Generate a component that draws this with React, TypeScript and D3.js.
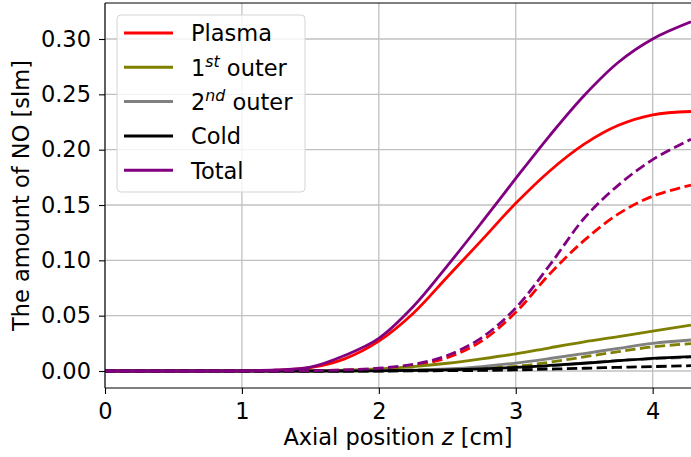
import React, { useEffect, useRef } from 'react';
import * as d3 from 'd3';

// axial positions (cm)
const zValues = [0, 0.5, 1.0, 1.25, 1.5, 1.75, 2.0, 2.25, 2.5, 2.75, 3.0, 3.25, 3.5, 3.75, 4.0, 4.28];

// solid curves
const plasma = [0, 0, 0.0002, 0.0008, 0.003, 0.011, 0.027, 0.052, 0.085, 0.118, 0.1515, 0.181, 0.205, 0.222, 0.2315, 0.2345];
const outer1 = [0, 0, 0, 0, 0.0002, 0.0008, 0.002, 0.004, 0.007, 0.011, 0.0155, 0.021, 0.0263, 0.031, 0.036, 0.0415];
const outer2 = [0, 0, 0, 0, 0, 0.0001, 0.0003, 0.0008, 0.0018, 0.004, 0.0072, 0.0113, 0.0158, 0.0205, 0.025, 0.028];
const cold = [0, 0, 0, 0, 0, 0, 0.0002, 0.0005, 0.001, 0.002, 0.0032, 0.005, 0.007, 0.0093, 0.0115, 0.013];
const total = [0, 0, 0.0002, 0.0009, 0.0035, 0.014, 0.0295, 0.058, 0.095, 0.134, 0.174, 0.213, 0.249, 0.279, 0.3, 0.3155];

// dashed curves
const plasmaDashed = [0, 0, 0, 0, 0.0002, 0.0008, 0.002, 0.005, 0.012, 0.027, 0.053, 0.088, 0.118, 0.142, 0.158, 0.168];
const outer1Dashed = [0, 0, 0, 0, 0, 0.0001, 0.0004, 0.001, 0.0015, 0.0025, 0.0042, 0.008, 0.0128, 0.0175, 0.0218, 0.0248];
const outer2Dashed = [0, 0, 0, 0, 0, 0, 0.0001, 0.0003, 0.0006, 0.001, 0.0019, 0.0043, 0.0072, 0.0095, 0.011, 0.0125];
const coldDashed = [0, 0, 0, 0, 0, 0, 0, 0.0001, 0.0003, 0.0005, 0.001, 0.0017, 0.0025, 0.0033, 0.004, 0.0048];
const totalDashed = [0, 0, 0, 0, 0.0003, 0.001, 0.0025, 0.006, 0.014, 0.03, 0.057, 0.096, 0.138, 0.168, 0.191, 0.2095];

const xTicks = [0, 1, 2, 3, 4];
const yTicks = [0, 0.05, 0.1, 0.15, 0.2, 0.25, 0.3];

const series = [
  { name: 'Plasma', sup: '', color: '#ff0000', solid: plasma, dashed: plasmaDashed },
  { name: '1', sup: 'st', color: '#808000', solid: outer1, dashed: outer1Dashed },
  { name: '2', sup: 'nd', color: '#808080', solid: outer2, dashed: outer2Dashed },
  { name: 'Cold', sup: '', color: '#000000', solid: cold, dashed: coldDashed },
  { name: 'Total', sup: '', color: '#800080', solid: total, dashed: totalDashed },
];

const W = 691;
const H = 457;
const FONT = 'DejaVu Sans, sans-serif';
const FS = 22.5;

const App = () => {
  const svgRef = useRef(null);

  useEffect(() => {
    const svg = d3.select(svgRef.current);
    svg.selectAll('*').remove();

    const left = 105, right = 691, top = 3, bottom = 388;

    const x = d3.scaleLinear().domain([0, 4.28]).range([left, right]);
    const y = d3.scaleLinear().domain([-0.01536, 0.33253]).range([bottom, top]);

    svg.append('defs').append('clipPath').attr('id', 'plotClip')
      .append('rect').attr('x', left).attr('y', top).attr('width', right - left).attr('height', bottom - top);

    // grid
    const grid = svg.append('g').attr('stroke', '#c0c0c0').attr('stroke-width', 1.3);
    xTicks.forEach(t => {
      grid.append('line').attr('x1', x(t)).attr('x2', x(t)).attr('y1', top).attr('y2', bottom);
    });
    yTicks.forEach(t => {
      grid.append('line').attr('x1', left).attr('x2', right).attr('y1', y(t)).attr('y2', y(t));
    });

    // lines
    const line = d3.line()
      .x((d, i) => x(zValues[i]))
      .y(d => y(d))
      .curve(d3.curveCatmullRom.alpha(0.5));

    const plot = svg.append('g').attr('clip-path', 'url(#plotClip)').attr('fill', 'none');
    series.forEach(s => {
      plot.append('path').attr('d', line(s.solid)).attr('stroke', s.color).attr('stroke-width', 2.8);
      plot.append('path').attr('d', line(s.dashed)).attr('stroke', s.color).attr('stroke-width', 2.8)
        .attr('stroke-dasharray', '10.4,4.5');
    });

    // axes
    const xAxis = svg.append('g').attr('transform', `translate(0,${bottom})`)
      .call(d3.axisBottom(x).tickValues(xTicks).tickSize(6).tickPadding(6).tickFormat(d3.format('d')));
    const yAxis = svg.append('g').attr('transform', `translate(${left},0)`)
      .call(d3.axisLeft(y).tickValues(yTicks).tickSize(6).tickPadding(8).tickFormat(d3.format('.2f')));
    [xAxis, yAxis].forEach(a => {
      a.select('.domain').remove();
      a.selectAll('.tick line').attr('stroke', '#000').attr('stroke-width', 1.1);
      a.selectAll('.tick text').attr('font-family', FONT).attr('font-size', FS).attr('fill', '#000');
    });
    xAxis.selectAll('.tick text').attr('dy', '0.85em');

    // spines
    const spines = svg.append('g').attr('stroke', '#000').attr('stroke-width', 1.1);
    spines.append('line').attr('x1', left).attr('x2', left).attr('y1', top).attr('y2', bottom);
    spines.append('line').attr('x1', left).attr('x2', right).attr('y1', bottom).attr('y2', bottom);
    spines.append('line').attr('x1', left).attr('x2', right).attr('y1', top).attr('y2', top);

    // axis labels
    const xl = svg.append('text').attr('x', (left + right) / 2).attr('y', 445)
      .attr('text-anchor', 'middle').attr('font-family', FONT).attr('font-size', FS);
    xl.append('tspan').text('Axial position ');
    xl.append('tspan').attr('font-style', 'italic').text('z');
    xl.append('tspan').text(' [cm]');

    svg.append('text')
      .attr('transform', `translate(29,${(top + bottom) / 2}) rotate(-90)`)
      .attr('text-anchor', 'middle').attr('font-family', FONT).attr('font-size', FS)
      .text('The amount of NO [slm]');

    // legend
    const lg = svg.append('g');
    lg.append('rect').attr('x', 117).attr('y', 15).attr('width', 188).attr('height', 177).attr('rx', 4)
      .attr('fill', '#fff').attr('fill-opacity', 0.8).attr('stroke', '#d5d5d5').attr('stroke-width', 1);
    series.forEach((s, i) => {
      const cy = 33 + i * 34.3;
      lg.append('line').attr('x1', 124).attr('x2', 173).attr('y1', cy).attr('y2', cy)
        .attr('stroke', s.color).attr('stroke-width', 3);
      const t = lg.append('text').attr('x', 191).attr('y', cy + 8.3)
        .attr('font-family', FONT).attr('font-size', FS);
      t.append('tspan').text(s.name);
      if (s.sup) {
        t.append('tspan').attr('font-style', 'italic').attr('font-size', FS * 0.7).attr('dy', -9).text(s.sup);
        t.append('tspan').attr('dy', 9).text(' outer');
      }
    });
  }, []);

  return (
    <svg
      ref={svgRef}
      width={W}
      height={H}
      viewBox={`0 0 ${W} ${H}`}
      style={{ position: 'absolute', left: 0, top: 0, background: '#fff' }}
    />
  );
};

export default App;
